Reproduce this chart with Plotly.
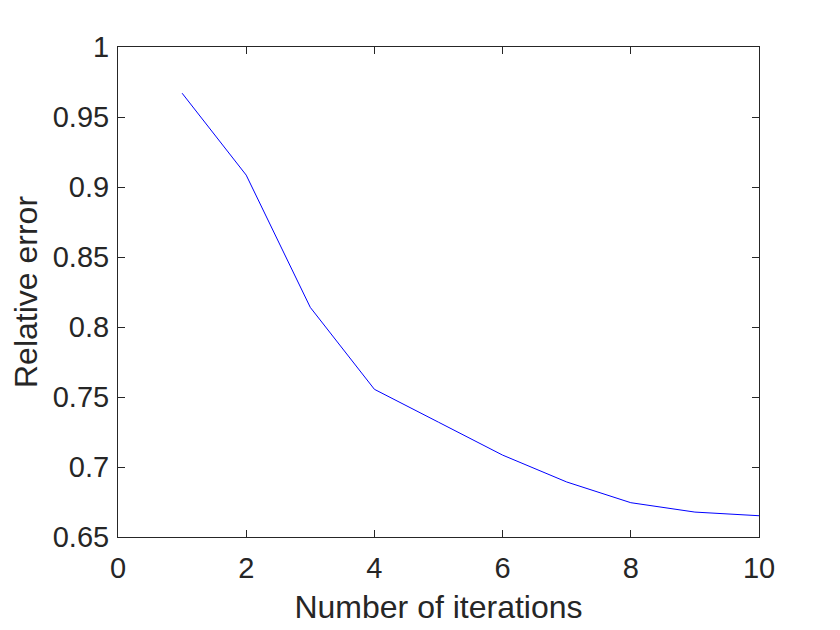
import plotly.graph_objects as go

iterations = [1, 2, 3, 4, 5, 6, 7, 8, 9, 10]
relative_error = [0.967, 0.9085, 0.814, 0.7555, 0.732, 0.7085, 0.6893, 0.6745, 0.6678, 0.6652]
x_ticks = [0, 2, 4, 6, 8, 10]
y_ticks = [0.65, 0.7, 0.75, 0.8, 0.85, 0.9, 0.95, 1]
y_tick_labels = ["0.65", "0.7", "0.75", "0.8", "0.85", "0.9", "0.95", "1"]

fig = go.Figure()
fig.add_trace(go.Scatter(x=iterations, y=relative_error, mode="lines",
                         line=dict(color="#0000ff", width=1)))

axis_common = dict(showline=True, linecolor="#262626", linewidth=1, mirror="ticks",
                   ticks="inside", ticklen=7, tickcolor="#262626", showgrid=False,
                   zeroline=False, automargin=False,
                   tickfont=dict(family="Liberation Sans, Arial", size=29, color="#262626"))

fig.update_layout(
    width=840, height=630,
    paper_bgcolor="white", plot_bgcolor="white",
    margin=dict(l=110, r=89, t=39, b=101),
    showlegend=False,
    font=dict(family="Liberation Sans, Arial", color="#262626"),
    xaxis=dict(range=[0, 10], tickvals=x_ticks, ticklabelstandoff=5,
               title=dict(text="Number of iterations", font=dict(size=32, color="#262626"), standoff=12),
               **axis_common),
    yaxis=dict(range=[0.65, 1], tickvals=y_ticks, ticktext=y_tick_labels, ticklabelstandoff=2,
               title=dict(text="Relative error", font=dict(size=32, color="#262626"), standoff=6),
               **axis_common),
)

fig.write_html("out.html")
